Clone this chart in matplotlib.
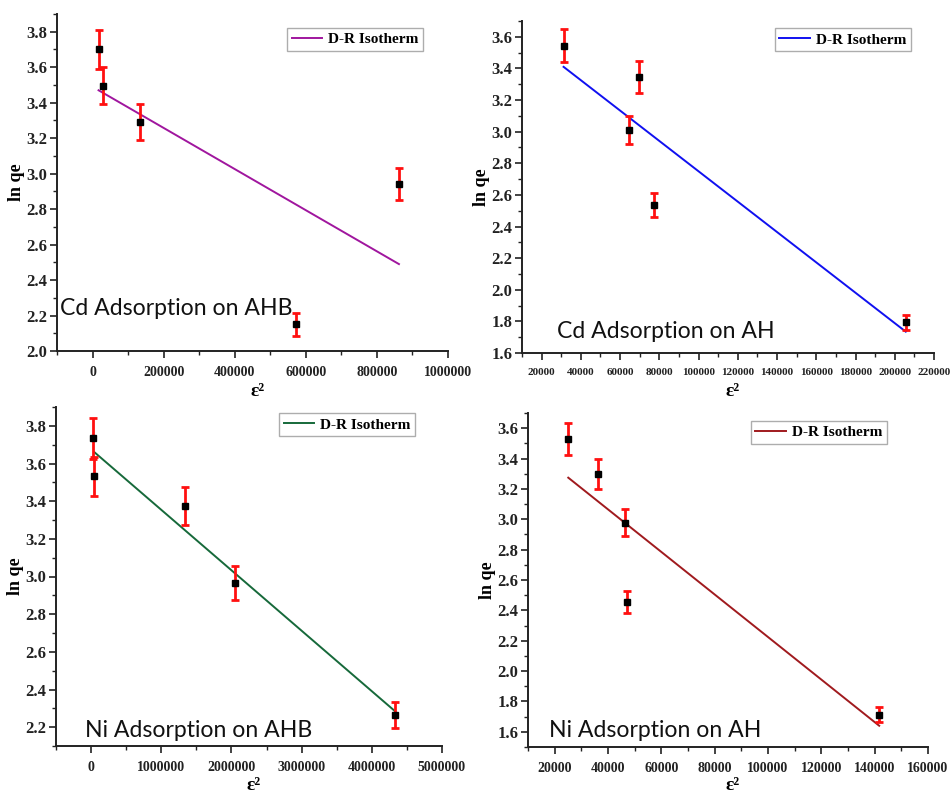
import matplotlib
matplotlib.use("Agg")
import matplotlib.pyplot as plt
from matplotlib.ticker import MultipleLocator, FixedLocator

plt.rcParams['font.family'] = ['Liberation Serif', 'DejaVu Serif']
plt.rcParams['font.weight'] = 'bold'

# ---- data ----
# Cd on AHB
cd_ahb_x = [16900, 30000, 134000, 572000, 862000]
cd_ahb_y = [3.70, 3.495, 3.29, 2.15, 2.94]
cd_ahb_err = [0.11, 0.105, 0.10, 0.065, 0.09]
cd_ahb_fit_x = [16900, 862000]
cd_ahb_fit_y = [3.47, 2.49]

# Cd on AH
cd_ah_x = [31200, 64700, 69800, 77100, 205600]
cd_ah_y = [3.543, 3.01, 3.347, 2.537, 1.793]
cd_ah_err = [0.105, 0.09, 0.10, 0.075, 0.05]
cd_ah_fit_x = [31200, 205600]
cd_ah_fit_y = [3.41, 1.735]

# Ni on AHB
ni_ahb_x = [24000, 47000, 1339000, 2047000, 4330000]
ni_ahb_y = [3.733, 3.531, 3.374, 2.965, 2.265]
ni_ahb_err = [0.11, 0.105, 0.10, 0.09, 0.068]
ni_ahb_fit_x = [47000, 4330000]
ni_ahb_fit_y = [3.66, 2.285]

# Ni on AH
ni_ah_x = [25100, 36150, 46300, 47100, 141700]
ni_ah_y = [3.527, 3.298, 2.977, 2.455, 1.714]
ni_ah_err = [0.105, 0.10, 0.09, 0.072, 0.05]
ni_ah_fit_x = [25100, 141700]
ni_ah_fit_y = [3.274, 1.64]

W, H = 951, 798
fig = plt.figure(figsize=(W / 100, H / 100), dpi=100)


def px_axes(l, r, t, b):
    return fig.add_axes([l / W, 1 - b / H, (r - l) / W, (b - t) / H])


panels = [
    dict(box=(57, 448, 14, 351), x=cd_ahb_x, y=cd_ahb_y, e=cd_ahb_err,
         fx=cd_ahb_fit_x, fy=cd_ahb_fit_y, color='#A0169E',
         xlim=(-100000, 1000000), ylim=(2.0, 3.9), xmin=100000,
         ymaj=0.2, xticks=[0, 200000, 400000, 600000, 800000, 1000000], xfs=10,
         title='Cd Adsorption on AHB', tpos=(0.008, 0.107),
         leg=(0.937, 0.958), xlab_y=392),
    dict(box=(522, 934, 21, 353), x=cd_ah_x, y=cd_ah_y, e=cd_ah_err,
         fx=cd_ah_fit_x, fy=cd_ah_fit_y, color='#1010F0',
         xlim=(10000, 220000), ylim=(1.6, 3.7), xmin=10000,
         ymaj=0.2, xticks=list(range(20000, 220001, 20000)), xfs=8,
         title='Cd Adsorption on AH', tpos=(0.086, 0.044),
         leg=(0.944, 0.978), xlab_y=392),
    dict(box=(56, 442, 407, 746), x=ni_ahb_x, y=ni_ahb_y, e=ni_ahb_err,
         fx=ni_ahb_fit_x, fy=ni_ahb_fit_y, color='#16693A',
         xlim=(-500000, 5000000), ylim=(2.1, 3.9), xmin=500000,
         ymaj=0.2, xticks=[0, 1000000, 2000000, 3000000, 4000000, 5000000], xfs=10,
         title='Ni Adsorption on AHB', tpos=(0.075, 0.027),
         leg=(0.931, 0.981), xlab_y=786),
    dict(box=(528, 928, 413, 747), x=ni_ah_x, y=ni_ah_y, e=ni_ah_err,
         fx=ni_ah_fit_x, fy=ni_ah_fit_y, color='#A01A1E',
         xlim=(10000, 160000), ylim=(1.5, 3.7), xmin=10000,
         ymaj=0.2, xticks=list(range(20000, 160001, 20000)), xfs=10,
         title='Ni Adsorption on AH', tpos=(0.053, 0.031),
         leg=(0.8975, 0.977), xlab_y=786),
]

for p in panels:
    ax = px_axes(*p['box'])
    ax.plot(p['fx'], p['fy'], color=p['color'], lw=1.4, label='D-R Isotherm', zorder=2)
    ax.errorbar(p['x'], p['y'], yerr=p['e'], fmt='none', ecolor='#FF1010',
                elinewidth=2.0, capsize=2.6, capthick=2.0, zorder=3)
    ax.plot(p['x'], p['y'], 's', color='black', ms=5, zorder=4)

    ax.set_xlim(*p['xlim'])
    ax.set_ylim(*p['ylim'])
    ax.xaxis.set_major_locator(FixedLocator(p['xticks']))
    ax.xaxis.set_minor_locator(MultipleLocator(p['xmin']))
    ax.yaxis.set_major_locator(MultipleLocator(p['ymaj']))
    ax.yaxis.set_minor_locator(MultipleLocator(p['ymaj'] / 2))
    ax.set_yticklabels([f'{v:.1f}' for v in ax.get_yticks()])
    ax.set_xticklabels([str(int(v)) for v in p['xticks']])

    for s in ['top', 'right']:
        ax.spines[s].set_visible(False)
    for s in ['left', 'bottom']:
        ax.spines[s].set_linewidth(1.4)
        ax.spines[s].set_color('#222222')
    ax.tick_params(which='major', direction='out', length=5, width=1.2, colors='#222222')
    ax.tick_params(which='minor', direction='out', length=3, width=1.0, colors='#222222')
    ax.tick_params(axis='y', labelsize=12, pad=2)
    ax.tick_params(axis='x', labelsize=p['xfs'], pad=6)
    for lab in ax.get_xticklabels() + ax.get_yticklabels():
        lab.set_fontweight('bold')

    ax.set_ylabel('ln qe', fontsize=13, fontweight='bold', labelpad=1)
    l, r, t, b = p['box']
    fig.text((l + r) / 2 / W + 0.005, 1 - p['xlab_y'] / H, 'ε²',
             ha='center', va='center', fontsize=14, fontweight='bold')

    ax.text(p['tpos'][0], p['tpos'][1], p['title'], transform=ax.transAxes,
            fontsize=16.6, family=['Lato', 'DejaVu Sans'], fontweight='normal',
            ha='left', va='baseline', color='#111111')

    leg = ax.legend(loc='upper right', bbox_to_anchor=p['leg'], frameon=True,
                    fancybox=False, edgecolor='#999999', handlelength=2.0,
                    prop={'family': 'Liberation Serif', 'weight': 'bold', 'size': 11},
                    borderpad=0.3, handletextpad=0.4, borderaxespad=0)
    leg.get_frame().set_linewidth(1.0)

fig.savefig('out.png', dpi=100)
